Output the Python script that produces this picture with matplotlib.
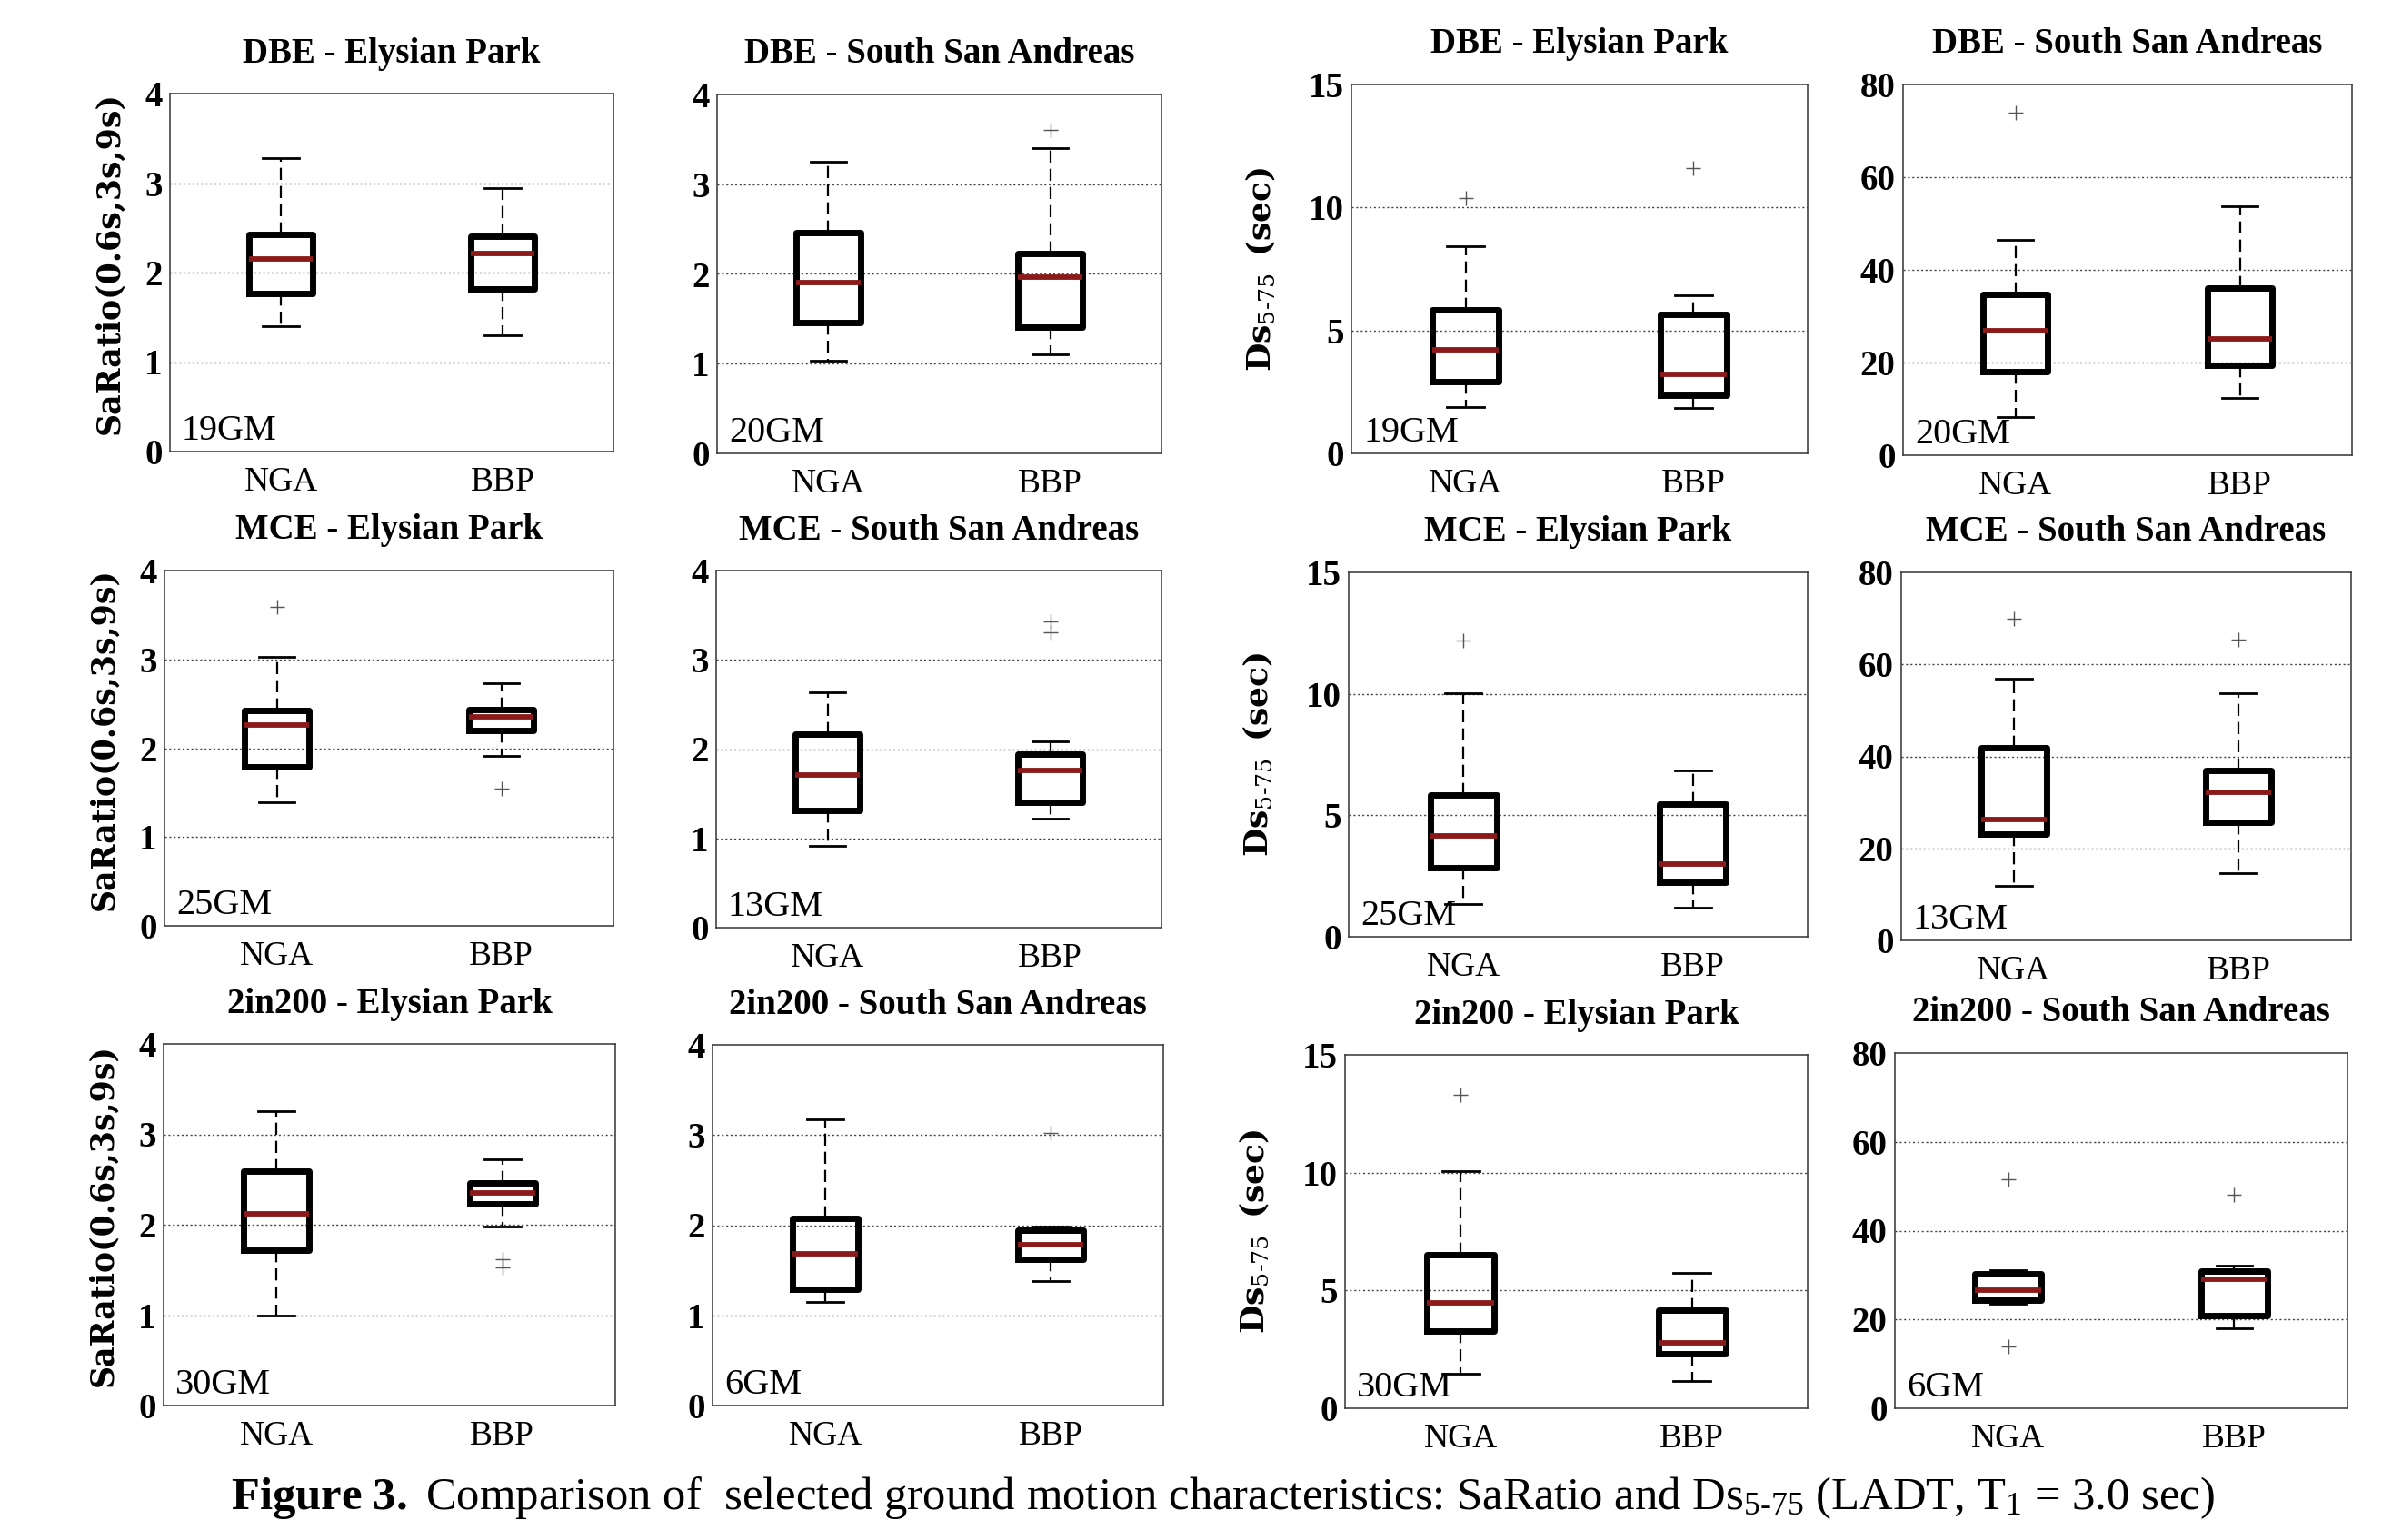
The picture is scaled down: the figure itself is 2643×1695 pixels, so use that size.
'''
Boxplots of SaRatio and Ds5-75 for NGA vs BBP ground motion sets (LADT, T1 = 3.0 sec).
'''
import matplotlib
matplotlib.use('Agg')
import matplotlib.pyplot as plt

plt.rcParams['font.family'] = 'Liberation Serif'
plt.rcParams['mathtext.fontset'] = 'custom'
plt.rcParams['mathtext.rm'] = 'Liberation Serif'
plt.rcParams['mathtext.bf'] = 'Liberation Serif:bold'
plt.rcParams['mathtext.it'] = 'Liberation Serif:italic'
plt.rcParams['mathtext.sf'] = 'DejaVu Serif:bold'
plt.rcParams['mathtext.tt'] = 'DejaVu Serif'

GROUPS = ['NGA', 'BBP']
LEVELS = ['DBE', 'MCE', '2in200']
SITES = ['Elysian Park', 'South San Andreas']
GM_EP = ['19GM', '25GM', '30GM']    # number of motions, Elysian Park
GM_SSA = ['20GM', '13GM', '6GM']    # number of motions, South San Andreas

# five-number summaries per group: whislo, q1, median, q3, whishi
sa_dbe_ep = [[1.40, 1.77, 2.15, 2.43, 3.28], [1.30, 1.82, 2.21, 2.41, 2.94]]
sa_dbe_ssa = [[1.03, 1.46, 1.90, 2.46, 3.25], [1.10, 1.41, 1.96, 2.23, 3.40]]
sa_mce_ep = [[1.39, 1.79, 2.26, 2.42, 3.03], [1.91, 2.20, 2.35, 2.43, 2.73]]
sa_mce_ssa = [[0.92, 1.31, 1.71, 2.17, 2.64], [1.22, 1.40, 1.76, 1.94, 2.09]]
sa_2in200_ep = [[1.00, 1.72, 2.12, 2.59, 3.26], [1.98, 2.23, 2.35, 2.46, 2.72]]
sa_2in200_ssa = [[1.15, 1.29, 1.68, 2.08, 3.17], [1.38, 1.62, 1.78, 1.94, 1.98]]
ds_dbe_ep = [[1.88, 2.93, 4.21, 5.83, 8.44], [1.85, 2.35, 3.22, 5.65, 6.44]]
ds_dbe_ssa = [[8.3, 18.1, 26.9, 34.8, 46.4], [12.3, 19.5, 25.1, 36.0, 53.8]]
ds_mce_ep = [[1.35, 2.84, 4.14, 5.82, 10.04], [1.18, 2.25, 2.99, 5.46, 6.84]]
ds_mce_ssa = [[11.8, 23.1, 26.2, 41.9, 56.9], [14.7, 25.6, 32.1, 37.0, 53.8]]
ds_2in200_ep = [[1.47, 3.27, 4.47, 6.52, 10.07], [1.15, 2.30, 2.78, 4.16, 5.76]]
ds_2in200_ssa = [[23.5, 24.4, 26.6, 30.2, 31.2], [18.1, 20.8, 29.1, 30.9, 32.1]]

# outliers per group
sa_dbe_ep_out = [[], []]
sa_dbe_ssa_out = [[], [3.60]]
sa_mce_ep_out = [[3.59], [1.54]]
sa_mce_ssa_out = [[], [3.43, 3.31]]
sa_2in200_ep_out = [[], [1.62, 1.53]]
sa_2in200_ssa_out = [[], [3.02]]
ds_dbe_ep_out = [[10.4], [11.6]]
ds_dbe_ssa_out = [[73.9], []]
ds_mce_ep_out = [[12.2], []]
ds_mce_ssa_out = [[69.9], [65.3]]
ds_2in200_ep_out = [[13.3], []]
ds_2in200_ssa_out = [[51.5, 14.0], [48.0]]

SA_TICKS = [0, 1, 2, 3, 4]
DS_EP_TICKS = [0, 5, 10, 15]
DS_SSA_TICKS = [0, 20, 40, 60, 80]

CAPTION = (r'$\mathbf{Figure\ 3.}$ Comparison of  selected ground motion characteristics: '
           r'SaRatio and Ds$_{\mathrm{5‐75}}$ (LADT, T$_{\mathrm{1}}$ = 3.0 sec)')

# --------------------------------------------------------- #
W, H = 2643, 1695
# axes boxes in pixels: left, right, top, bottom
boxes = [
    [(187, 675, 103, 497), (789, 1278, 104, 499), (1487, 1989, 93, 499), (2094, 2588, 93, 501)],
    [(181, 675, 628, 1019), (788, 1278, 628, 1021), (1484, 1989, 630, 1031), (2092, 2587, 630, 1035)],
    [(180, 677, 1149, 1547), (784, 1280, 1150, 1547), (1480, 1989, 1161, 1550), (2085, 2583, 1159, 1550)],
]

panels = [
    [(sa_dbe_ep, sa_dbe_ep_out), (sa_dbe_ssa, sa_dbe_ssa_out), (ds_dbe_ep, ds_dbe_ep_out), (ds_dbe_ssa, ds_dbe_ssa_out)],
    [(sa_mce_ep, sa_mce_ep_out), (sa_mce_ssa, sa_mce_ssa_out), (ds_mce_ep, ds_mce_ep_out), (ds_mce_ssa, ds_mce_ssa_out)],
    [(sa_2in200_ep, sa_2in200_ep_out), (sa_2in200_ssa, sa_2in200_ssa_out),
     (ds_2in200_ep, ds_2in200_ep_out), (ds_2in200_ssa, ds_2in200_ssa_out)],
]
col_ticks = [SA_TICKS, SA_TICKS, DS_EP_TICKS, DS_SSA_TICKS]
col_sites = [SITES[0], SITES[1], SITES[0], SITES[1]]
col_counts = [GM_EP, GM_SSA, GM_EP, GM_SSA]

red = '#8b1a1a'
fig = plt.figure(figsize=(W / 100, H / 100), dpi=100)

for r in range(3):
    for c in range(4):
        l, rt, t, b = boxes[r][c]
        wpx, hpx = rt - l, b - t
        ax = fig.add_axes([l / W, 1 - b / H, wpx / W, hpx / H])
        stats, outs = panels[r][c]
        bstats = []
        for lab, s, fl in zip(GROUPS, stats, outs):
            bstats.append(dict(label=lab, whislo=s[0], q1=s[1], med=s[2], q3=s[3], whishi=s[4], fliers=fl))
        ax.bxp(bstats, positions=[1, 2], widths=0.29, capwidths=0.16,
               boxprops=dict(color='k', lw=5.0),
               medianprops=dict(color=red, lw=4.2),
               whiskerprops=dict(color='k', lw=1.6, ls=(0, (6, 3))),
               capprops=dict(color='k', lw=2.0),
               flierprops=dict(marker='+', markersize=11, mew=1.0, markeredgecolor='#555555'))
        ticks = col_ticks[c]
        ax.set_xlim(0.5, 2.5)
        ax.set_ylim(ticks[0], ticks[-1])
        ax.set_yticks(ticks)
        ax.set_yticklabels([str(v) for v in ticks], fontsize=28, fontweight='bold')
        ax.tick_params(axis='y', length=0, pad=6)
        ax.tick_params(axis='x', length=0, pad=12, labelsize=27)
        for v in ticks[1:-1]:
            ax.axhline(v, color='#444444', lw=1.0, ls=(0, (1.5, 2)), zorder=0)
        for sp in ax.spines.values():
            sp.set_color('#333333')
            sp.set_linewidth(1.1)
        ax.text(0.5, 1 + 44 / hpx, LEVELS[r] + ' - ' + col_sites[c], transform=ax.transAxes,
                ha='center', va='center', fontsize=28, fontweight='bold')
        ax.text(13 / wpx, 13 / hpx, col_counts[c][r], transform=ax.transAxes,
                ha='left', va='baseline', fontsize=29)
        # y labels
        cy = 1 - (t + b) / 2 / H
        if c == 0:
            fig.text((l - 67) / W, cy + 10 / H, 'SaRatio(0.6s,3s,9s)', rotation=90, ha='center', va='center',
                     family='DejaVu Serif', fontweight='bold', fontsize=25)
        elif c == 2:
            fig.text((l - 99) / W, cy, r'$\mathsf{Ds}_{\mathtt{5‐75}}\ \ \mathsf{(sec)}$', rotation=90,
                     ha='center', va='center', fontsize=26)

fig.text(1346 / W, 46 / H, CAPTION, ha='center', va='center', fontsize=36.5)

plt.savefig('out.png', dpi=100)
